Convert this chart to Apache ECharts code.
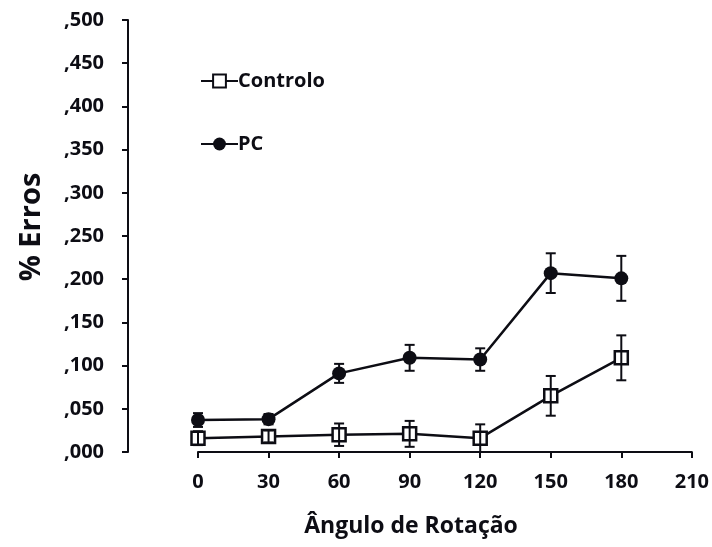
<!DOCTYPE html>
<html>
<head>
<meta charset="utf-8">
<script src="https://cdn.jsdelivr.net/npm/echarts@6/dist/echarts.min.js"></script>
<style>
  html, body { margin: 0; padding: 0; background: #fff; }
  #chart { width: 712px; height: 547px; }
</style>
</head>
<body>
<div id="chart"></div>
<script>
// Rotation angles (degrees)
const angles = [0, 30, 60, 90, 120, 150, 180];
// Mean error proportion per angle
const controlo = [0.016, 0.018, 0.020, 0.021, 0.016, 0.065, 0.109];
const pc = [0.037, 0.038, 0.091, 0.109, 0.107, 0.207, 0.201];
// Error bar half-lengths
const controloErr = [0.008, 0.007, 0.013, 0.015, 0.016, 0.023, 0.026];
const pcErr = [0.008, 0.006, 0.011, 0.015, 0.013, 0.023, 0.026];
// Axis titles
const xTitle = 'Ângulo de Rotação';
const yTitle = '% Erros';

const FONT = '"Open Sans", Lato, sans-serif';
const INK = '#0d0d14';

function errorSeries(means, errs) {
  const data = angles.map((a, i) => [a, means[i] - errs[i], means[i] + errs[i]]);
  return {
    type: 'custom',
    z: 5,
    silent: true,
    data: data,
    renderItem: function (params, api) {
      const x = api.value(0);
      const lo = api.coord([x, api.value(1)]);
      const hi = api.coord([x, api.value(2)]);
      const w = 5;
      const style = { stroke: INK, lineWidth: 2 };
      return {
        type: 'group',
        children: [
          { type: 'line', shape: { x1: lo[0], y1: lo[1], x2: hi[0], y2: hi[1] }, style },
          { type: 'line', shape: { x1: hi[0] - w, y1: hi[1], x2: hi[0] + w, y2: hi[1] }, style },
          { type: 'line', shape: { x1: lo[0] - w, y1: lo[1], x2: lo[0] + w, y2: lo[1] }, style }
        ]
      };
    }
  };
}

const chart = echarts.init(document.getElementById('chart'));
chart.setOption({
  animation: false,
  backgroundColor: '#fff',
  grid: { left: 198, right: 20, top: 20, bottom: 95 },
  legend: {
    left: 195,
    top: 66,
    orient: 'vertical',
    itemGap: 43,
    itemWidth: 37,
    itemHeight: 16,
    textStyle: { fontFamily: FONT, fontWeight: 'bold', fontSize: 20, color: INK, padding: [0, 0, 0, -5] },
    data: ['Controlo', 'PC']
  },
  graphic: [
    {
      type: 'text',
      x: 411, y: 526,
      style: {
        text: xTitle, fontFamily: FONT, fontWeight: 'bold', fontSize: 23, fill: INK,
        align: 'center', verticalAlign: 'middle'
      },
      z: 10
    },
    {
      type: 'text',
      x: 32, y: 227, rotation: Math.PI / 2,
      style: {
        text: yTitle, fontFamily: FONT, fontWeight: 'bold', fontSize: 29, fill: INK,
        align: 'center', verticalAlign: 'middle'
      },
      z: 10
    }
  ],
  xAxis: {
    type: 'value',
    min: 0,
    max: 210,
    interval: 30,
    axisLine: { lineStyle: { color: INK, width: 2 } },
    axisTick: { show: true, inside: false, length: 6, lineStyle: { color: INK, width: 2 } },
    axisLabel: { fontFamily: FONT, fontWeight: 'bold', fontSize: 20, color: INK, margin: 20 },
    splitLine: { show: false }
  },
  yAxis: {
    type: 'value',
    min: 0,
    max: 0.5,
    interval: 0.05,
    offset: 70,
    axisLine: { show: true, onZero: false, lineStyle: { color: INK, width: 2 } },
    axisTick: { show: true, inside: false, length: 6, lineStyle: { color: INK, width: 2 } },
    axisLabel: {
      fontFamily: FONT, fontWeight: 'bold', fontSize: 20, color: INK, margin: 24,
      formatter: v => ',' + String(Math.round(v * 1000)).padStart(3, '0')
    },
    splitLine: { show: false }
  },
  series: [
    {
      name: 'Controlo',
      type: 'line',
      z: 3,
      data: angles.map((a, i) => [a, controlo[i]]),
      symbol: 'rect',
      symbolSize: 13,
      lineStyle: { color: INK, width: 2.5 },
      itemStyle: { color: '#fff', borderColor: INK, borderWidth: 2.5 }
    },
    {
      name: 'PC',
      type: 'line',
      z: 3,
      data: angles.map((a, i) => [a, pc[i]]),
      symbol: 'circle',
      symbolSize: 14,
      lineStyle: { color: INK, width: 2.5 },
      itemStyle: { color: INK, borderColor: INK, borderWidth: 0 }
    },
    errorSeries(controlo, controloErr),
    errorSeries(pc, pcErr)
  ]
});
</script>
</body>
</html>
